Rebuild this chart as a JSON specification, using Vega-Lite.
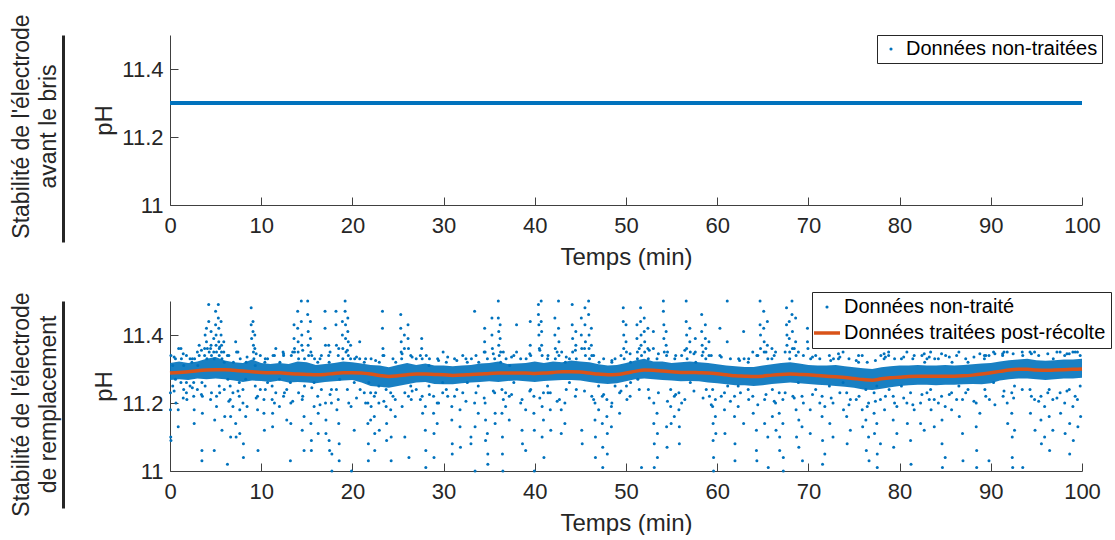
{
"$schema":"https://vega.github.io/schema/vega-lite/v6.json",
"padding":{"left":10,"top":14,"right":0,"bottom":0},
"config":{
"font":"Liberation Sans",
"view":{"stroke":null},
"axis":{"labelFont":"Liberation Sans","labelFontSize":22,"labelColor":"#262626","titleFont":"Liberation Sans","titleFontSize":24,"titleFontWeight":"normal","titleColor":"#262626","domainColor":"#404040","tickColor":"#404040","grid":false,"tickSize":-8,"labelFlush":false},
"legend":{"labelFont":"Liberation Sans","labelFontSize":20,"labelColor":"#000000","strokeColor":"#262626","fillColor":"#ffffff","title":null,"labelLimit":500}
},
"datasets":{
"top":[{"t":0,"p":11.3},{"t":5,"p":11.3},{"t":10,"p":11.3},{"t":15,"p":11.3},{"t":20,"p":11.3},{"t":25,"p":11.3},{"t":30,"p":11.3},{"t":35,"p":11.3},{"t":40,"p":11.3},{"t":45,"p":11.3},{"t":50,"p":11.3},{"t":55,"p":11.3},{"t":60,"p":11.3},{"t":65,"p":11.3},{"t":70,"p":11.3},{"t":75,"p":11.3},{"t":80,"p":11.3},{"t":85,"p":11.3},{"t":90,"p":11.3},{"t":95,"p":11.3},{"t":100,"p":11.3}],
"smooth":[
{"t":0,"m":11.288,"lo":11.268,"hi":11.318},{"t":1,"m":11.29,"lo":11.27,"hi":11.322},{"t":2,"m":11.292,"lo":11.268,"hi":11.318},{"t":3,"m":11.295,"lo":11.272,"hi":11.322},{"t":4,"m":11.297,"lo":11.27,"hi":11.33},{"t":5,"m":11.298,"lo":11.272,"hi":11.335},{"t":6,"m":11.298,"lo":11.27,"hi":11.325},{"t":7,"m":11.296,"lo":11.266,"hi":11.32},{"t":8,"m":11.294,"lo":11.262,"hi":11.318},{"t":9,"m":11.292,"lo":11.266,"hi":11.328},
{"t":10,"m":11.29,"lo":11.265,"hi":11.318},{"t":11,"m":11.289,"lo":11.262,"hi":11.315},{"t":12,"m":11.289,"lo":11.266,"hi":11.318},{"t":13,"m":11.287,"lo":11.26,"hi":11.315},{"t":14,"m":11.285,"lo":11.262,"hi":11.322},{"t":15,"m":11.284,"lo":11.26,"hi":11.32},{"t":16,"m":11.283,"lo":11.258,"hi":11.312},{"t":17,"m":11.284,"lo":11.262,"hi":11.315},{"t":18,"m":11.287,"lo":11.264,"hi":11.318},{"t":19,"m":11.289,"lo":11.266,"hi":11.322},
{"t":20,"m":11.289,"lo":11.268,"hi":11.32},{"t":21,"m":11.288,"lo":11.26,"hi":11.316},{"t":22,"m":11.285,"lo":11.25,"hi":11.312},{"t":23,"m":11.281,"lo":11.248,"hi":11.31},{"t":24,"m":11.278,"lo":11.245,"hi":11.305},{"t":25,"m":11.28,"lo":11.25,"hi":11.312},{"t":26,"m":11.283,"lo":11.255,"hi":11.318},{"t":27,"m":11.285,"lo":11.26,"hi":11.312},{"t":28,"m":11.285,"lo":11.262,"hi":11.316},{"t":29,"m":11.284,"lo":11.256,"hi":11.31},
{"t":30,"m":11.283,"lo":11.255,"hi":11.31},{"t":31,"m":11.281,"lo":11.255,"hi":11.308},{"t":32,"m":11.282,"lo":11.258,"hi":11.31},{"t":33,"m":11.284,"lo":11.26,"hi":11.312},{"t":34,"m":11.285,"lo":11.262,"hi":11.316},{"t":35,"m":11.287,"lo":11.264,"hi":11.318},{"t":36,"m":11.288,"lo":11.262,"hi":11.322},{"t":37,"m":11.288,"lo":11.265,"hi":11.315},{"t":38,"m":11.288,"lo":11.266,"hi":11.316},{"t":39,"m":11.288,"lo":11.264,"hi":11.318},
{"t":40,"m":11.287,"lo":11.262,"hi":11.322},{"t":41,"m":11.288,"lo":11.265,"hi":11.318},{"t":42,"m":11.29,"lo":11.266,"hi":11.322},{"t":43,"m":11.292,"lo":11.268,"hi":11.32},{"t":44,"m":11.292,"lo":11.268,"hi":11.325},{"t":45,"m":11.291,"lo":11.266,"hi":11.322},{"t":46,"m":11.288,"lo":11.262,"hi":11.32},{"t":47,"m":11.285,"lo":11.258,"hi":11.314},{"t":48,"m":11.283,"lo":11.256,"hi":11.31},{"t":49,"m":11.284,"lo":11.258,"hi":11.312},
{"t":50,"m":11.288,"lo":11.264,"hi":11.318},{"t":51,"m":11.293,"lo":11.27,"hi":11.325},{"t":52,"m":11.297,"lo":11.272,"hi":11.33},{"t":53,"m":11.296,"lo":11.27,"hi":11.322},{"t":54,"m":11.294,"lo":11.268,"hi":11.322},{"t":55,"m":11.292,"lo":11.266,"hi":11.318},{"t":56,"m":11.29,"lo":11.264,"hi":11.32},{"t":57,"m":11.29,"lo":11.265,"hi":11.322},{"t":58,"m":11.289,"lo":11.264,"hi":11.32},{"t":59,"m":11.288,"lo":11.26,"hi":11.318},
{"t":60,"m":11.286,"lo":11.258,"hi":11.314},{"t":61,"m":11.283,"lo":11.255,"hi":11.31},{"t":62,"m":11.28,"lo":11.252,"hi":11.308},{"t":63,"m":11.279,"lo":11.252,"hi":11.306},{"t":64,"m":11.278,"lo":11.25,"hi":11.306},{"t":65,"m":11.279,"lo":11.252,"hi":11.31},{"t":66,"m":11.282,"lo":11.256,"hi":11.314},{"t":67,"m":11.284,"lo":11.258,"hi":11.318},{"t":68,"m":11.285,"lo":11.26,"hi":11.32},{"t":69,"m":11.284,"lo":11.258,"hi":11.316},
{"t":70,"m":11.283,"lo":11.256,"hi":11.312},{"t":71,"m":11.281,"lo":11.254,"hi":11.31},{"t":72,"m":11.279,"lo":11.252,"hi":11.31},{"t":73,"m":11.277,"lo":11.25,"hi":11.312},{"t":74,"m":11.275,"lo":11.248,"hi":11.308},{"t":75,"m":11.272,"lo":11.245,"hi":11.305},{"t":76,"m":11.269,"lo":11.24,"hi":11.302},{"t":77,"m":11.267,"lo":11.238,"hi":11.3},{"t":78,"m":11.271,"lo":11.242,"hi":11.305},{"t":79,"m":11.274,"lo":11.246,"hi":11.308},
{"t":80,"m":11.276,"lo":11.25,"hi":11.31},{"t":81,"m":11.278,"lo":11.252,"hi":11.31},{"t":82,"m":11.279,"lo":11.254,"hi":11.312},{"t":83,"m":11.279,"lo":11.254,"hi":11.31},{"t":84,"m":11.279,"lo":11.252,"hi":11.31},{"t":85,"m":11.279,"lo":11.254,"hi":11.312},{"t":86,"m":11.279,"lo":11.254,"hi":11.31},{"t":87,"m":11.28,"lo":11.255,"hi":11.312},{"t":88,"m":11.282,"lo":11.256,"hi":11.314},{"t":89,"m":11.285,"lo":11.255,"hi":11.316},
{"t":90,"m":11.289,"lo":11.258,"hi":11.318},{"t":91,"m":11.293,"lo":11.266,"hi":11.322},{"t":92,"m":11.297,"lo":11.27,"hi":11.326},{"t":93,"m":11.299,"lo":11.272,"hi":11.328},{"t":94,"m":11.299,"lo":11.272,"hi":11.33},{"t":95,"m":11.297,"lo":11.27,"hi":11.326},{"t":96,"m":11.296,"lo":11.268,"hi":11.324},{"t":97,"m":11.297,"lo":11.27,"hi":11.326},{"t":98,"m":11.298,"lo":11.272,"hi":11.328},{"t":99,"m":11.299,"lo":11.272,"hi":11.328},{"t":100,"m":11.3,"lo":11.274,"hi":11.33}],
"raw":[
{"t":0.05,"p":11.23},{"t":0.05,"p":11.18},{"t":0.08,"p":11.1},{"t":0.1,"p":11.09},{"t":0.1,"p":11.34},{"t":0.3,"p":11.25},{"t":0.3,"p":11.31},{"t":0.6,"p":11.33},{"t":0.6,"p":11.27},{"t":0.65,"p":11.2},{"t":0.9,"p":11.18},{"t":0.9,"p":11.13},{"t":0.95,"p":11.36},{"t":1.2,"p":11.36},{"t":1.2,"p":11.26},{"t":1.25,"p":11.33},{"t":1.5,"p":11.24},{"t":1.5,"p":11.31},{"t":1.8,"p":11.26},{"t":1.8,"p":11.23},{"t":1.85,"p":11.21},{"t":1.8,"p":11.34},{"t":2.2,"p":11.33},{"t":2.2,"p":11.25},{"t":2.4,"p":11.32},{"t":2.6,"p":11.26},{"t":2.6,"p":11.22},{"t":2.65,"p":11.18},{"t":2.65,"p":11.14},{"t":2.7,"p":11.33},{"t":3.0,"p":11.35},{"t":3.0,"p":11.24},{"t":3.05,"p":11.31},{"t":3.2,"p":11.37},{"t":3.2,"p":11.34},{"t":3.5,"p":11.03},{"t":3.5,"p":11.06},{"t":3.55,"p":11.17},{"t":3.55,"p":11.22},{"t":3.5,"p":11.26},{"t":3.8,"p":11.36},{"t":3.8,"p":11.34},{"t":3.85,"p":11.4},{"t":3.85,"p":11.25},{"t":4.0,"p":11.42},{"t":4.0,"p":11.38},{"t":4.05,"p":11.33},{"t":4.1,"p":11.36},{"t":4.24,"p":11.49},{"t":4.25,"p":11.44},{"t":4.3,"p":11.35},{"t":4.5,"p":11.41},{"t":4.5,"p":11.37},{"t":4.55,"p":11.34},{"t":4.55,"p":11.23},{"t":4.8,"p":11.39},{"t":4.8,"p":11.35},{"t":4.85,"p":11.33},{"t":4.85,"p":11.06},{"t":4.9,"p":11.15},{"t":5.0,"p":11.47},{"t":5.0,"p":11.43},{"t":5.05,"p":11.4},{"t":5.05,"p":11.37},{"t":5.1,"p":11.35},{"t":5.1,"p":11.22},{"t":5.1,"p":11.19},{"t":5.3,"p":11.49},{"t":5.3,"p":11.45},{"t":5.35,"p":11.42},{"t":5.35,"p":11.38},{"t":5.4,"p":11.36},{"t":5.4,"p":11.34},{"t":5.4,"p":11.25},{"t":5.6,"p":11.44},{"t":5.6,"p":11.4},{"t":5.65,"p":11.37},{"t":5.65,"p":11.35},{"t":5.7,"p":11.33},{"t":5.7,"p":11.12},{"t":5.9,"p":11.38},{"t":5.9,"p":11.35},{"t":5.95,"p":11.32},{"t":5.95,"p":11.24},{"t":6.0,"p":11.16},
{"t":6.3,"p":11.02},{"t":6.3,"p":11.34},{"t":6.35,"p":11.27},{"t":6.6,"p":11.25},{"t":6.6,"p":11.21},{"t":6.65,"p":11.16},{"t":6.65,"p":11.1},{"t":6.9,"p":11.23},{"t":6.9,"p":11.19},{"t":6.95,"p":11.32},{"t":7.2,"p":11.38},{"t":7.2,"p":11.14},{"t":7.25,"p":11.1},{"t":7.3,"p":11.35},{"t":7.6,"p":11.26},{"t":7.6,"p":11.22},{"t":7.65,"p":11.18},{"t":7.65,"p":11.11},{"t":7.7,"p":11.33},{"t":8.0,"p":11.24},{"t":8.0,"p":11.2},{"t":8.05,"p":11.08},{"t":8.05,"p":11.04},{"t":8.3,"p":11.27},{"t":8.3,"p":11.16},{"t":8.35,"p":11.32},{"t":8.9,"p":11.48},{"t":8.9,"p":11.43},{"t":8.95,"p":11.39},{"t":9.1,"p":11.44},{"t":9.1,"p":11.41},{"t":9.15,"p":11.37},{"t":9.15,"p":11.35},{"t":9.2,"p":11.33},{"t":9.3,"p":11.4},{"t":9.3,"p":11.36},{"t":9.35,"p":11.31},{"t":9.35,"p":11.25},{"t":9.6,"p":11.22},{"t":9.6,"p":11.18},{"t":9.65,"p":11.06},{"t":9.9,"p":11.34},{"t":9.9,"p":11.24},{"t":10.3,"p":11.21},{"t":10.3,"p":11.17},{"t":10.35,"p":11.12},{"t":10.4,"p":11.32},{"t":10.7,"p":11.26},{"t":10.7,"p":11.33},
{"t":11.2,"p":11.25},{"t":11.2,"p":11.21},{"t":11.25,"p":11.17},{"t":11.25,"p":11.13},{"t":11.3,"p":11.34},{"t":11.6,"p":11.36},{"t":11.6,"p":11.23},{"t":12.0,"p":11.27},{"t":12.0,"p":11.19},{"t":12.05,"p":11.32},{"t":12.4,"p":11.35},{"t":12.45,"p":11.34},{"t":12.45,"p":11.22},{"t":12.8,"p":11.24},{"t":12.8,"p":11.15},{"t":13.2,"p":11.03},{"t":13.2,"p":11.26},{"t":13.25,"p":11.2},{"t":13.25,"p":11.14},{"t":13.3,"p":11.34},{"t":13.6,"p":11.43},{"t":13.6,"p":11.39},{"t":13.65,"p":11.36},{"t":13.65,"p":11.35},{"t":14.0,"p":11.47},{"t":14.0,"p":11.42},{"t":14.05,"p":11.38},{"t":14.05,"p":11.35},{"t":14.1,"p":11.33},{"t":14.1,"p":11.23},{"t":14.4,"p":11.5},{"t":14.4,"p":11.44},{"t":14.45,"p":11.4},{"t":14.45,"p":11.37},{"t":14.5,"p":11.21},{"t":14.5,"p":11.12},{"t":14.7,"p":11.06},{"t":14.7,"p":11.16},{"t":14.75,"p":11.25},{"t":14.75,"p":11.33},{"t":15.1,"p":11.5},{"t":15.1,"p":11.46},{"t":15.15,"p":11.41},{"t":15.15,"p":11.37},{"t":15.2,"p":11.34},{"t":15.4,"p":11.44},{"t":15.4,"p":11.39},{"t":15.45,"p":11.35},{"t":15.45,"p":11.14},{"t":15.5,"p":11.09},{"t":15.5,"p":11.06},{"t":15.8,"p":11.26},{"t":15.8,"p":11.19},{"t":15.85,"p":11.33},{"t":16.2,"p":11.32},{"t":16.2,"p":11.22},{"t":16.25,"p":11.17},{"t":16.25,"p":11.11},{"t":16.6,"p":11.34},{"t":16.6,"p":11.24},
{"t":17.0,"p":11.47},{"t":17.0,"p":11.42},{"t":17.05,"p":11.37},{"t":17.05,"p":11.2},{"t":17.1,"p":11.15},{"t":17.1,"p":11.11},{"t":17.4,"p":11.37},{"t":17.4,"p":11.34},{"t":17.45,"p":11.32},{"t":17.45,"p":11.09},{"t":17.5,"p":11.06},{"t":17.7,"p":11.24},{"t":17.7,"p":11.2},{"t":17.75,"p":11.05},{"t":17.75,"p":11.0},{"t":18.2,"p":11.47},{"t":18.2,"p":11.43},{"t":18.25,"p":11.37},{"t":18.25,"p":11.24},{"t":18.3,"p":11.18},{"t":18.5,"p":11.36},{"t":18.5,"p":11.14},{"t":18.55,"p":11.08},{"t":18.55,"p":11.03},{"t":18.6,"p":11.27},{"t":18.9,"p":11.44},{"t":18.9,"p":11.4},{"t":18.95,"p":11.36},{"t":18.95,"p":11.33},{"t":19.2,"p":11.5},{"t":19.2,"p":11.47},{"t":19.25,"p":11.43},{"t":19.25,"p":11.39},{"t":19.3,"p":11.35},{"t":19.5,"p":11.45},{"t":19.5,"p":11.41},{"t":19.55,"p":11.38},{"t":19.55,"p":11.34},{"t":19.6,"p":11.2},{"t":19.8,"p":11.37},{"t":19.8,"p":11.33},{"t":19.85,"p":11.19},{"t":19.9,"p":11.0},{"t":20.2,"p":11.12},{"t":20.2,"p":11.26},{"t":20.25,"p":11.33},{"t":20.8,"p":11.38},{"t":20.8,"p":11.33},{"t":20.85,"p":11.24},{"t":21.3,"p":11.23},{"t":21.3,"p":11.32},{"t":21.7,"p":11.2},{"t":21.7,"p":11.14},{"t":21.75,"p":11.08},{"t":21.75,"p":11.03},{"t":21.8,"p":11.26},{"t":22.0,"p":11.23},{"t":22.0,"p":11.15},{"t":22.05,"p":11.19},{"t":22.05,"p":11.33},{"t":22.4,"p":11.22},{"t":22.4,"p":11.16},{"t":22.45,"p":11.11},{"t":22.45,"p":11.06},{"t":22.9,"p":11.25},{"t":22.9,"p":11.2},{"t":22.95,"p":11.12},{"t":22.95,"p":11.32},
{"t":23.3,"p":11.47},{"t":23.3,"p":11.42},{"t":23.35,"p":11.36},{"t":23.35,"p":11.34},{"t":23.7,"p":11.24},{"t":23.7,"p":11.19},{"t":23.75,"p":11.14},{"t":23.75,"p":11.09},{"t":24.2,"p":11.23},{"t":24.2,"p":11.18},{"t":24.25,"p":11.1},{"t":24.25,"p":11.03},{"t":24.7,"p":11.21},{"t":24.7,"p":11.16},{"t":24.75,"p":11.32},{"t":25.3,"p":11.46},{"t":25.3,"p":11.42},{"t":25.35,"p":11.38},{"t":25.35,"p":11.35},{"t":25.4,"p":11.33},{"t":25.7,"p":11.4},{"t":25.7,"p":11.36},{"t":25.75,"p":11.1},{"t":25.75,"p":11.23},{"t":26.1,"p":11.43},{"t":26.1,"p":11.39},{"t":26.15,"p":11.36},{"t":26.15,"p":11.22},{"t":26.2,"p":11.04},{"t":26.4,"p":11.34},{"t":26.4,"p":11.25},{"t":26.45,"p":11.21},{"t":27.0,"p":11.33},{"t":27.0,"p":11.24},{"t":27.6,"p":11.39},{"t":27.6,"p":11.36},{"t":27.65,"p":11.33},{"t":27.65,"p":11.22},{"t":27.7,"p":11.17},{"t":28.0,"p":11.19},{"t":28.0,"p":11.12},{"t":28.05,"p":11.06},{"t":28.05,"p":11.01},{"t":28.1,"p":11.34},{"t":28.4,"p":11.25},{"t":28.4,"p":11.31},{"t":28.9,"p":11.22},{"t":28.9,"p":11.17},{"t":28.95,"p":11.11},{"t":28.95,"p":11.04},{"t":29.3,"p":11.2},{"t":29.3,"p":11.14},{"t":29.35,"p":11.33},{"t":29.9,"p":11.26},{"t":29.9,"p":11.23},{"t":29.95,"p":11.35},{"t":30.3,"p":11.24},{"t":30.3,"p":11.32},{"t":30.9,"p":11.19},{"t":30.9,"p":11.15},{"t":30.95,"p":11.08},{"t":30.95,"p":11.05},{"t":31.2,"p":11.22},{"t":31.2,"p":11.33},{"t":31.8,"p":11.18},{"t":31.8,"p":11.13},{"t":31.85,"p":11.07},{"t":32.1,"p":11.23},{"t":32.1,"p":11.34},{"t":32.6,"p":11.26},{"t":32.6,"p":11.32},{"t":33.0,"p":11.1},{"t":33.0,"p":11.08},{"t":33.05,"p":11.33},
{"t":33.4,"p":11.47},{"t":33.4,"p":11.2},{"t":33.45,"p":11.13},{"t":33.45,"p":11.0},{"t":33.8,"p":11.25},{"t":33.8,"p":11.17},{"t":33.85,"p":11.32},{"t":34.5,"p":11.42},{"t":34.5,"p":11.38},{"t":34.55,"p":11.35},{"t":34.55,"p":11.2},{"t":34.6,"p":11.15},{"t":34.6,"p":11.09},{"t":34.8,"p":11.33},{"t":34.8,"p":11.11},{"t":34.85,"p":11.05},{"t":34.85,"p":11.02},{"t":35.3,"p":11.45},{"t":35.3,"p":11.4},{"t":35.35,"p":11.36},{"t":35.6,"p":11.33},{"t":35.6,"p":11.23},{"t":35.65,"p":11.17},{"t":35.65,"p":11.14},{"t":36.0,"p":11.5},{"t":36.0,"p":11.45},{"t":36.05,"p":11.41},{"t":36.05,"p":11.37},{"t":36.1,"p":11.34},{"t":36.2,"p":11.43},{"t":36.2,"p":11.39},{"t":36.25,"p":11.35},{"t":36.25,"p":11.32},{"t":36.4,"p":11.24},{"t":36.4,"p":11.17},{"t":36.45,"p":11.1},{"t":36.45,"p":11.05},{"t":36.5,"p":11.0},{"t":36.8,"p":11.23},{"t":36.8,"p":11.19},{"t":36.85,"p":11.33},{"t":37.2,"p":11.22},{"t":37.2,"p":11.15},{"t":37.25,"p":11.31},{"t":37.7,"p":11.26},{"t":37.7,"p":11.34},{"t":38.0,"p":11.43},{"t":38.0,"p":11.35},{"t":38.6,"p":11.21},{"t":38.6,"p":11.12},{"t":38.65,"p":11.08},{"t":39.0,"p":11.18},{"t":39.0,"p":11.06},{"t":39.05,"p":11.33},{"t":39.5,"p":11.44},{"t":39.5,"p":11.37},{"t":39.55,"p":11.34},{"t":39.55,"p":11.24},{"t":39.9,"p":11.22},{"t":39.9,"p":11.17},{"t":39.95,"p":11.12},{"t":39.95,"p":11.0},
{"t":40.4,"p":11.49},{"t":40.4,"p":11.46},{"t":40.45,"p":11.43},{"t":40.45,"p":11.4},{"t":40.5,"p":11.36},{"t":40.7,"p":11.5},{"t":40.7,"p":11.44},{"t":40.75,"p":11.41},{"t":40.75,"p":11.37},{"t":40.8,"p":11.34},{"t":40.8,"p":11.19},{"t":40.8,"p":11.1},{"t":40.95,"p":11.23},{"t":40.95,"p":11.15},{"t":41.0,"p":11.04},{"t":41.4,"p":11.33},{"t":41.4,"p":11.25},{"t":41.7,"p":11.23},{"t":41.7,"p":11.18},{"t":41.75,"p":11.12},{"t":42.2,"p":11.45},{"t":42.2,"p":11.4},{"t":42.25,"p":11.36},{"t":42.25,"p":11.33},{"t":42.6,"p":11.5},{"t":42.6,"p":11.42},{"t":42.65,"p":11.38},{"t":42.65,"p":11.34},{"t":42.7,"p":11.21},{"t":42.9,"p":11.18},{"t":42.9,"p":11.11},{"t":42.95,"p":11.35},{"t":43.3,"p":11.2},{"t":43.3,"p":11.14},{"t":43.35,"p":11.32},{"t":43.8,"p":11.26},{"t":43.8,"p":11.33},{"t":44.1,"p":11.49},{"t":44.1,"p":11.43},{"t":44.15,"p":11.39},{"t":44.15,"p":11.35},{"t":44.5,"p":11.41},{"t":44.5,"p":11.37},{"t":44.55,"p":11.33},{"t":44.55,"p":11.24},{"t":45.1,"p":11.45},{"t":45.1,"p":11.4},{"t":45.15,"p":11.36},{"t":45.15,"p":11.12},{"t":45.2,"p":11.08},{"t":45.5,"p":11.48},{"t":45.5,"p":11.43},{"t":45.55,"p":11.38},{"t":45.55,"p":11.34},{"t":45.9,"p":11.5},{"t":45.9,"p":11.46},{"t":45.95,"p":11.4},{"t":45.95,"p":11.36},{"t":46.0,"p":11.33},{"t":46.2,"p":11.42},{"t":46.2,"p":11.37},{"t":46.25,"p":11.34},{"t":46.25,"p":11.22},{"t":46.6,"p":11.2},{"t":46.6,"p":11.15},{"t":46.65,"p":11.1},{"t":46.65,"p":11.04},{"t":47.0,"p":11.25},{"t":47.0,"p":11.18},{"t":47.05,"p":11.32},{"t":47.4,"p":11.22},{"t":47.4,"p":11.14},{"t":47.45,"p":11.07},{"t":47.45,"p":11.01},{"t":47.9,"p":11.21},{"t":47.9,"p":11.16},{"t":47.95,"p":11.11},{"t":47.95,"p":11.05},{"t":48.4,"p":11.19},{"t":48.4,"p":11.13},{"t":48.45,"p":11.32},{"t":48.8,"p":11.25},{"t":48.8,"p":11.33},{"t":49.3,"p":11.23},{"t":49.3,"p":11.17},{"t":49.7,"p":11.48},{"t":49.7,"p":11.44},{"t":49.75,"p":11.4},{"t":49.75,"p":11.36},{"t":49.8,"p":11.33},{"t":50.0,"p":11.43},{"t":50.0,"p":11.38},{"t":50.05,"p":11.35},{"t":50.05,"p":11.25},{"t":50.1,"p":11.21},
{"t":50.5,"p":11.26},{"t":50.5,"p":11.32},{"t":51.2,"p":11.43},{"t":51.2,"p":11.39},{"t":51.25,"p":11.35},{"t":51.25,"p":11.33},{"t":51.3,"p":11.27},{"t":51.6,"p":11.48},{"t":51.6,"p":11.44},{"t":51.65,"p":11.4},{"t":51.65,"p":11.37},{"t":51.7,"p":11.34},{"t":51.7,"p":11.01},{"t":52.0,"p":11.45},{"t":52.0,"p":11.41},{"t":52.05,"p":11.38},{"t":52.05,"p":11.35},{"t":52.4,"p":11.42},{"t":52.4,"p":11.36},{"t":52.45,"p":11.33},{"t":52.45,"p":11.24},{"t":53.0,"p":11.41},{"t":53.0,"p":11.36},{"t":53.05,"p":11.2},{"t":53.05,"p":11.14},{"t":53.1,"p":11.08},{"t":53.1,"p":11.01},{"t":53.4,"p":11.33},{"t":53.4,"p":11.17},{"t":53.45,"p":11.11},{"t":53.45,"p":11.04},{"t":54.1,"p":11.5},{"t":54.1,"p":11.47},{"t":54.15,"p":11.43},{"t":54.15,"p":11.39},{"t":54.2,"p":11.35},{"t":54.4,"p":11.41},{"t":54.4,"p":11.37},{"t":54.45,"p":11.34},{"t":54.45,"p":11.13},{"t":54.5,"p":11.07},{"t":54.9,"p":11.24},{"t":54.9,"p":11.19},{"t":54.95,"p":11.14},{"t":55.3,"p":11.22},{"t":55.3,"p":11.16},{"t":55.35,"p":11.33},{"t":55.8,"p":11.23},{"t":55.8,"p":11.18},{"t":55.85,"p":11.13},{"t":55.85,"p":11.08},{"t":56.1,"p":11.2},{"t":56.1,"p":11.34},{"t":56.6,"p":11.5},{"t":56.6,"p":11.44},{"t":56.65,"p":11.4},{"t":56.65,"p":11.36},{"t":56.7,"p":11.33},{"t":57.0,"p":11.42},{"t":57.0,"p":11.38},{"t":57.05,"p":11.35},{"t":57.05,"p":11.26},{"t":57.6,"p":11.39},{"t":57.6,"p":11.35},{"t":57.65,"p":11.32},{"t":58.3,"p":11.46},{"t":58.3,"p":11.41},{"t":58.35,"p":11.37},{"t":58.35,"p":11.34},{"t":58.7,"p":11.43},{"t":58.7,"p":11.39},{"t":58.75,"p":11.36},{"t":58.75,"p":11.33},{"t":58.8,"p":11.24},{"t":59.1,"p":11.38},{"t":59.1,"p":11.34},{"t":59.15,"p":11.22},{"t":59.5,"p":11.24},{"t":59.5,"p":11.19},{"t":59.55,"p":11.14},{"t":59.55,"p":11.09},{"t":59.6,"p":11.04},{"t":59.6,"p":11.0},{"t":59.8,"p":11.21},{"t":59.8,"p":11.16},{"t":59.85,"p":11.11},
{"t":60.3,"p":11.42},{"t":60.3,"p":11.34},{"t":60.8,"p":11.23},{"t":60.8,"p":11.18},{"t":60.85,"p":11.11},{"t":61.1,"p":11.5},{"t":61.1,"p":11.38},{"t":61.15,"p":11.25},{"t":61.9,"p":11.22},{"t":61.9,"p":11.16},{"t":61.95,"p":11.08},{"t":61.95,"p":11.03},{"t":62.3,"p":11.25},{"t":62.3,"p":11.19},{"t":62.35,"p":11.33},{"t":62.9,"p":11.41},{"t":62.9,"p":11.14},{"t":62.95,"p":11.33},{"t":63.4,"p":11.24},{"t":63.4,"p":11.32},{"t":63.9,"p":11.35},{"t":63.9,"p":11.22},{"t":63.95,"p":11.17},{"t":64.3,"p":11.12},{"t":64.3,"p":11.06},{"t":64.35,"p":11.03},{"t":64.35,"p":11.34},{"t":64.7,"p":11.5},{"t":64.7,"p":11.43},{"t":64.75,"p":11.4},{"t":64.75,"p":11.36},{"t":65.1,"p":11.47},{"t":65.1,"p":11.42},{"t":65.15,"p":11.38},{"t":65.15,"p":11.35},{"t":65.2,"p":11.21},{"t":65.2,"p":11.14},{"t":65.5,"p":11.44},{"t":65.5,"p":11.37},{"t":65.55,"p":11.33},{"t":65.55,"p":11.1},{"t":65.6,"p":11.01},{"t":66.0,"p":11.36},{"t":66.0,"p":11.33},{"t":66.05,"p":11.24},{"t":66.05,"p":11.16},{"t":66.4,"p":11.35},{"t":66.4,"p":11.2},{"t":66.45,"p":11.12},
{"t":66.8,"p":11.23},{"t":66.8,"p":11.17},{"t":66.85,"p":11.1},{"t":66.85,"p":11.06},{"t":67.2,"p":11.21},{"t":67.2,"p":11.14},{"t":67.25,"p":11.04},{"t":67.25,"p":11.0},{"t":67.6,"p":11.48},{"t":67.6,"p":11.43},{"t":67.65,"p":11.4},{"t":67.65,"p":11.37},{"t":67.9,"p":11.44},{"t":67.9,"p":11.39},{"t":67.95,"p":11.35},{"t":67.95,"p":11.33},{"t":68.2,"p":11.5},{"t":68.2,"p":11.46},{"t":68.25,"p":11.41},{"t":68.25,"p":11.36},{"t":68.3,"p":11.22},{"t":68.6,"p":11.45},{"t":68.6,"p":11.38},{"t":68.65,"p":11.34},{"t":68.65,"p":11.18},{"t":68.7,"p":11.1},{"t":68.9,"p":11.35},{"t":68.9,"p":11.26},{"t":68.95,"p":11.15},{"t":68.95,"p":11.07},{"t":69.3,"p":11.22},{"t":69.3,"p":11.13},{"t":69.35,"p":11.03},{"t":69.9,"p":11.42},{"t":69.9,"p":11.38},{"t":69.95,"p":11.36},{"t":70.2,"p":11.18},{"t":70.2,"p":11.11},{"t":70.25,"p":11.33},{"t":70.8,"p":11.24},{"t":70.8,"p":11.34},{"t":71.5,"p":11.22},{"t":71.5,"p":11.16},{"t":71.55,"p":11.09},{"t":71.55,"p":11.02},{"t":71.8,"p":11.19},{"t":71.8,"p":11.05},{"t":72.3,"p":11.34},{"t":72.3,"p":11.25},{"t":72.35,"p":11.14},{"t":72.7,"p":11.2},{"t":72.7,"p":11.1},{"t":72.75,"p":11.33},{"t":73.3,"p":11.345},{"t":73.3,"p":11.33},{"t":73.8,"p":11.35},{"t":73.8,"p":11.26},{"t":73.85,"p":11.18},{"t":74.2,"p":11.23},{"t":74.2,"p":11.16},{"t":74.25,"p":11.08},{"t":74.6,"p":11.21},{"t":74.6,"p":11.12},{"t":75.5,"p":11.34},{"t":75.5,"p":11.32},{"t":75.55,"p":11.22},{"t":75.9,"p":11.34},{"t":75.9,"p":11.18},{"t":75.95,"p":11.13},{"t":76.3,"p":11.24},{"t":76.3,"p":11.15},{"t":76.35,"p":11.06},{"t":76.6,"p":11.2},{"t":76.6,"p":11.1},{"t":76.65,"p":11.03},{"t":77.2,"p":11.23},{"t":77.2,"p":11.17},{"t":77.25,"p":11.11},{"t":77.5,"p":11.25},{"t":77.5,"p":11.14},{"t":77.55,"p":11.05},{"t":77.55,"p":11.01},{"t":77.9,"p":11.21},{"t":77.9,"p":11.08},{"t":77.95,"p":11.34},{"t":78.3,"p":11.345},{"t":78.3,"p":11.33},{"t":78.35,"p":11.18},{"t":78.8,"p":11.35},{"t":78.8,"p":11.34},{"t":78.85,"p":11.24},{"t":79.3,"p":11.22},{"t":79.3,"p":11.15},{"t":79.35,"p":11.07},{"t":79.7,"p":11.19},{"t":79.7,"p":11.11},{"t":80.2,"p":11.33},{"t":80.2,"p":11.25},{"t":80.8,"p":11.35},{"t":80.8,"p":11.2},{"t":80.85,"p":11.14},{"t":81.2,"p":11.23},{"t":81.2,"p":11.09},{"t":81.25,"p":11.02},{"t":81.6,"p":11.34},{"t":81.6,"p":11.18},{"t":82.3,"p":11.2},{"t":82.3,"p":11.14},{"t":82.7,"p":11.345},{"t":82.7,"p":11.12},{"t":82.75,"p":11.32},{"t":83.0,"p":11.23},{"t":83.0,"p":11.33},
{"t":83.4,"p":11.35},{"t":83.4,"p":11.24},{"t":83.45,"p":11.18},{"t":83.8,"p":11.21},{"t":83.8,"p":11.13},{"t":83.85,"p":11.33},{"t":84.6,"p":11.345},{"t":84.6,"p":11.22},{"t":84.65,"p":11.15},{"t":84.65,"p":11.08},{"t":84.7,"p":11.01},{"t":85.0,"p":11.19},{"t":85.0,"p":11.04},{"t":85.05,"p":11.34},{"t":85.7,"p":11.23},{"t":85.7,"p":11.18},{"t":85.75,"p":11.32},{"t":86.5,"p":11.35},{"t":86.5,"p":11.25},{"t":86.55,"p":11.16},{"t":86.9,"p":11.21},{"t":86.9,"p":11.11},{"t":86.95,"p":11.03},{"t":87.5,"p":11.24},{"t":87.5,"p":11.32},{"t":88.4,"p":11.2},{"t":88.4,"p":11.13},{"t":88.45,"p":11.06},{"t":88.45,"p":11.01},{"t":88.8,"p":11.17},{"t":88.8,"p":11.345},{"t":89.3,"p":11.34},{"t":89.3,"p":11.33},{"t":89.35,"p":11.24},{"t":89.8,"p":11.34},{"t":89.8,"p":11.03},{"t":89.85,"p":11.21},{"t":90.3,"p":11.35},{"t":90.3,"p":11.26},{"t":91.3,"p":11.345},{"t":91.3,"p":11.34},{"t":91.35,"p":11.22},{"t":91.8,"p":11.35},{"t":91.8,"p":11.2},{"t":91.85,"p":11.14},{"t":92.3,"p":11.23},{"t":92.3,"p":11.17},{"t":92.35,"p":11.1},{"t":92.35,"p":11.04},{"t":92.4,"p":11.01},{"t":92.6,"p":11.25},{"t":92.6,"p":11.12},{"t":93.5,"p":11.01},{"t":93.5,"p":11.34},{"t":94.3,"p":11.35},{"t":94.3,"p":11.24},{"t":94.35,"p":11.17},{"t":94.8,"p":11.35},{"t":94.8,"p":11.21},{"t":94.85,"p":11.12},{"t":95.5,"p":11.22},{"t":95.5,"p":11.15},{"t":95.55,"p":11.08},{"t":95.9,"p":11.19},{"t":95.9,"p":11.1},{"t":96.4,"p":11.24},{"t":96.4,"p":11.16},{"t":96.45,"p":11.06},{"t":96.8,"p":11.21},{"t":96.8,"p":11.12},{"t":96.85,"p":11.33},{"t":97.6,"p":11.35},{"t":97.6,"p":11.23},{"t":97.65,"p":11.17},{"t":98.1,"p":11.34},{"t":98.1,"p":11.2},{"t":98.15,"p":11.11},{"t":98.6,"p":11.345},{"t":98.6,"p":11.24},{"t":98.65,"p":11.14},{"t":98.65,"p":11.05},{"t":99.0,"p":11.35},{"t":99.0,"p":11.19},{"t":99.05,"p":11.09},{"t":99.5,"p":11.35},{"t":99.5,"p":11.21},{"t":99.55,"p":11.13},{"t":99.8,"p":11.34},{"t":99.8,"p":11.25},{"t":99.85,"p":11.16},
{"t":0.45,"p":11.335},{"t":0.45,"p":11.235},{"t":1.45,"p":11.345},{"t":1.45,"p":11.215},{"t":2.45,"p":11.33},{"t":2.45,"p":11.245},{"t":3.45,"p":11.355},{"t":3.45,"p":11.225},{"t":4.45,"p":11.36},{"t":4.45,"p":11.21},{"t":5.45,"p":11.365},{"t":5.45,"p":11.23},{"t":6.45,"p":11.34},{"t":6.45,"p":11.205},{"t":7.45,"p":11.35},{"t":7.45,"p":11.235},{"t":8.45,"p":11.335},{"t":8.45,"p":11.19},{"t":9.45,"p":11.345},{"t":9.45,"p":11.215},
{"t":10.45,"p":11.33},{"t":10.45,"p":11.24},{"t":11.45,"p":11.34},{"t":11.45,"p":11.2},{"t":12.45,"p":11.345},{"t":12.55,"p":11.23},{"t":13.45,"p":11.35},{"t":13.45,"p":11.205},{"t":14.55,"p":11.355},{"t":14.55,"p":11.22},{"t":15.55,"p":11.34},{"t":15.55,"p":11.245},{"t":16.45,"p":11.33},{"t":16.45,"p":11.195},{"t":17.55,"p":11.35},{"t":17.55,"p":11.225},{"t":18.45,"p":11.34},{"t":18.45,"p":11.21},{"t":19.45,"p":11.355},{"t":19.45,"p":11.24},
{"t":20.45,"p":11.335},{"t":20.45,"p":11.215},{"t":21.45,"p":11.33},{"t":21.45,"p":11.2},{"t":22.55,"p":11.325},{"t":22.55,"p":11.23},{"t":23.45,"p":11.34},{"t":23.45,"p":11.205},{"t":24.45,"p":11.33},{"t":24.45,"p":11.22},{"t":25.45,"p":11.345},{"t":25.45,"p":11.19},{"t":26.55,"p":11.335},{"t":26.55,"p":11.235},{"t":27.45,"p":11.34},{"t":27.45,"p":11.21},{"t":28.45,"p":11.33},{"t":28.45,"p":11.225},{"t":29.45,"p":11.325},{"t":29.45,"p":11.2},
{"t":30.45,"p":11.335},{"t":30.45,"p":11.22},{"t":31.45,"p":11.325},{"t":31.45,"p":11.24},{"t":32.45,"p":11.33},{"t":32.45,"p":11.205},{"t":33.55,"p":11.34},{"t":33.55,"p":11.23},{"t":34.45,"p":11.35},{"t":34.45,"p":11.215},{"t":35.45,"p":11.345},{"t":35.45,"p":11.235},{"t":36.55,"p":11.35},{"t":36.55,"p":11.21},{"t":37.45,"p":11.335},{"t":37.45,"p":11.225},{"t":38.45,"p":11.33},{"t":38.45,"p":11.2},{"t":39.45,"p":11.345},{"t":39.45,"p":11.235},
{"t":40.55,"p":11.355},{"t":40.55,"p":11.215},{"t":41.45,"p":11.34},{"t":41.45,"p":11.23},{"t":42.45,"p":11.35},{"t":42.45,"p":11.205},{"t":43.45,"p":11.335},{"t":43.45,"p":11.24},{"t":44.45,"p":11.355},{"t":44.45,"p":11.22},{"t":45.45,"p":11.36},{"t":45.45,"p":11.235},{"t":46.45,"p":11.34},{"t":46.45,"p":11.21},{"t":47.55,"p":11.33},{"t":47.55,"p":11.225},{"t":48.45,"p":11.325},{"t":48.45,"p":11.2},{"t":49.45,"p":11.34},{"t":49.45,"p":11.235},
{"t":50.45,"p":11.345},{"t":50.45,"p":11.22},{"t":51.45,"p":11.36},{"t":51.45,"p":11.24},{"t":52.55,"p":11.355},{"t":52.55,"p":11.215},{"t":53.55,"p":11.345},{"t":53.55,"p":11.23},{"t":54.55,"p":11.35},{"t":54.55,"p":11.205},{"t":55.45,"p":11.34},{"t":55.45,"p":11.225},{"t":56.45,"p":11.355},{"t":56.45,"p":11.21},{"t":57.45,"p":11.345},{"t":57.45,"p":11.235},{"t":58.45,"p":11.35},{"t":58.45,"p":11.215},{"t":59.35,"p":11.34},{"t":59.35,"p":11.195},
{"t":60.45,"p":11.335},{"t":60.45,"p":11.22},{"t":61.45,"p":11.33},{"t":61.45,"p":11.205},{"t":62.45,"p":11.325},{"t":62.55,"p":11.23},{"t":63.45,"p":11.33},{"t":63.45,"p":11.21},{"t":64.45,"p":11.34},{"t":64.45,"p":11.195},{"t":65.35,"p":11.35},{"t":65.35,"p":11.225},{"t":66.25,"p":11.34},{"t":66.25,"p":11.205},{"t":67.45,"p":11.35},{"t":67.45,"p":11.23},{"t":68.45,"p":11.36},{"t":68.45,"p":11.215},{"t":69.45,"p":11.34},{"t":69.45,"p":11.2},
{"t":70.45,"p":11.335},{"t":70.45,"p":11.225},{"t":71.25,"p":11.33},{"t":71.25,"p":11.2},{"t":72.45,"p":11.325},{"t":72.5,"p":11.215},{"t":73.45,"p":11.335},{"t":73.45,"p":11.23},{"t":74.45,"p":11.33},{"t":74.45,"p":11.195},{"t":75.25,"p":11.325},{"t":75.25,"p":11.21},{"t":76.45,"p":11.32},{"t":76.45,"p":11.19},{"t":77.35,"p":11.325},{"t":77.35,"p":11.205},{"t":78.45,"p":11.335},{"t":78.45,"p":11.22},{"t":79.45,"p":11.33},{"t":79.45,"p":11.2},
{"t":80.45,"p":11.335},{"t":80.45,"p":11.215},{"t":81.45,"p":11.33},{"t":81.45,"p":11.195},{"t":82.45,"p":11.34},{"t":82.45,"p":11.225},{"t":83.25,"p":11.335},{"t":83.25,"p":11.21},{"t":84.25,"p":11.33},{"t":84.25,"p":11.2},{"t":85.45,"p":11.335},{"t":85.45,"p":11.225},{"t":86.25,"p":11.34},{"t":86.25,"p":11.21},{"t":87.25,"p":11.33},{"t":87.25,"p":11.23},{"t":88.15,"p":11.335},{"t":88.15,"p":11.205},{"t":89.45,"p":11.34},{"t":89.45,"p":11.22},
{"t":90.45,"p":11.345},{"t":90.45,"p":11.195},{"t":91.45,"p":11.35},{"t":91.45,"p":11.235},{"t":92.45,"p":11.345},{"t":92.5,"p":11.215},{"t":93.45,"p":11.35},{"t":93.45,"p":11.24},{"t":94.45,"p":11.345},{"t":94.45,"p":11.22},{"t":95.25,"p":11.34},{"t":95.25,"p":11.205},{"t":96.25,"p":11.345},{"t":96.25,"p":11.23},{"t":97.25,"p":11.35},{"t":97.25,"p":11.215},{"t":98.35,"p":11.345},{"t":98.35,"p":11.235},{"t":99.25,"p":11.35},{"t":99.25,"p":11.22}
]
},
"spacing":20,
"resolve":{"scale":{"color":"independent"},"legend":{"color":"independent"}},
"vconcat":[
{"hconcat":[
{"width":1,"height":207,"data":{"values":[{"v":0}]},"mark":{"type":"point","opacity":0},
"encoding":{"y":{"field":"v","type":"quantitative","axis":{"orient":"right","domainColor":"#262626","domainWidth":3,"ticks":false,"labels":false,"grid":false,"title":null}}},
"title":{"text":["Stabilité de l'électrode","avant le bris"],"orient":"left","anchor":"middle","font":"Liberation Sans","fontSize":23,"fontWeight":"normal","color":"#262626","offset":-1,"lineHeight":27,"dx":12}},
{"width":912,"height":170,
"layer":[
{"data":{"name":"top"},"mark":{"type":"line","strokeWidth":4,"color":"#0072BD"},
"encoding":{
"x":{"field":"t","type":"quantitative","scale":{"domain":[0,100],"nice":false},"axis":{"title":"Temps (min)","values":[0,10,20,30,40,50,60,70,80,90,100],"labelPadding":18,"titlePadding":9}},
"y":{"field":"p","type":"quantitative","scale":{"domain":[11,11.5],"nice":false,"zero":false},"axis":{"title":"pH","values":[11,11.2,11.4],"format":"~g","labelPadding":15,"titlePadding":5}},
"color":{"datum":"Données non-traitées","type":"nominal","scale":{"domain":["Données non-traitées"],"range":["#0072BD"]},
"legend":{"orient":"none","legendX":815,"legendY":0,"padding":4,"symbolSize":576,"labelOffset":5,
"encode":{"symbols":{"update":{"shape":{"value":"circle"},"size":{"value":10},"fill":{"value":"#0072BD"},"stroke":{"value":"transparent"},"strokeWidth":{"value":0},"opacity":{"value":1}}}}}}}}
]}
],"spacing":26},
{"hconcat":[
{"width":1,"height":207,"data":{"values":[{"v":0}]},"mark":{"type":"point","opacity":0},
"encoding":{"y":{"field":"v","type":"quantitative","axis":{"orient":"right","domainColor":"#262626","domainWidth":3,"ticks":false,"labels":false,"grid":false,"title":null}}},
"title":{"text":["Stabilité  de l'électrode","de remplacement"],"orient":"left","anchor":"middle","font":"Liberation Sans","fontSize":23,"fontWeight":"normal","color":"#262626","offset":-1,"lineHeight":27}},
{"width":912,"height":170,
"layer":[
{"data":{"name":"smooth"},"mark":{"type":"area","color":"#0072BD","opacity":0.9},
"encoding":{
"x":{"field":"t","type":"quantitative","scale":{"domain":[0,100],"nice":false},"axis":{"title":"Temps (min)","values":[0,10,20,30,40,50,60,70,80,90,100],"labelPadding":18,"titlePadding":9}},
"y":{"field":"lo","type":"quantitative","scale":{"domain":[11,11.5],"nice":false,"zero":false},"axis":{"title":"pH","values":[11,11.2,11.4],"format":"~g","labelPadding":15,"titlePadding":5}},
"y2":{"field":"hi"}}},
{"data":{"name":"raw"},"mark":{"type":"circle","size":9,"opacity":1},
"encoding":{
"x":{"field":"t","type":"quantitative"},
"y":{"field":"p","type":"quantitative"},
"color":{"datum":"Données non-traité","type":"nominal","scale":{"domain":["Données non-traité","Données traitées post-récolte"],"range":["#0072BD","#D95319"]},
"legend":{"orient":"none","legendX":750,"legendY":-9,"padding":5,"symbolSize":676,"labelOffset":7,"rowPadding":6,
"encode":{"symbols":{"update":{
"shape":{"signal":"datum.value === 'Données non-traité' ? 'circle' : 'stroke'"},
"size":{"signal":"datum.value === 'Données non-traité' ? 10 : 676"},
"fill":{"signal":"datum.value === 'Données non-traité' ? '#0072BD' : 'transparent'"},
"stroke":{"signal":"datum.value === 'Données non-traité' ? 'transparent' : '#D95319'"},
"strokeWidth":{"signal":"datum.value === 'Données non-traité' ? 0 : 3.5"},
"opacity":{"value":1},"fillOpacity":{"value":1},"strokeOpacity":{"value":1}}}}}}}},
{"data":{"name":"smooth"},"mark":{"type":"line","strokeWidth":3.5,"interpolate":"monotone"},
"encoding":{
"x":{"field":"t","type":"quantitative"},
"y":{"field":"m","type":"quantitative"},
"color":{"datum":"Données traitées post-récolte","type":"nominal",
"legend":{"orient":"none","legendX":750,"legendY":-9,"padding":5,"symbolSize":676,"labelOffset":7,"rowPadding":6,
"encode":{"symbols":{"update":{
"shape":{"signal":"datum.value === 'Données non-traité' ? 'circle' : 'stroke'"},
"size":{"signal":"datum.value === 'Données non-traité' ? 10 : 676"},
"fill":{"signal":"datum.value === 'Données non-traité' ? '#0072BD' : 'transparent'"},
"stroke":{"signal":"datum.value === 'Données non-traité' ? 'transparent' : '#D95319'"},
"strokeWidth":{"signal":"datum.value === 'Données non-traité' ? 0 : 3.5"},
"opacity":{"value":1},"fillOpacity":{"value":1},"strokeOpacity":{"value":1}}}}}}}}
]}
],"spacing":26}
]
}
